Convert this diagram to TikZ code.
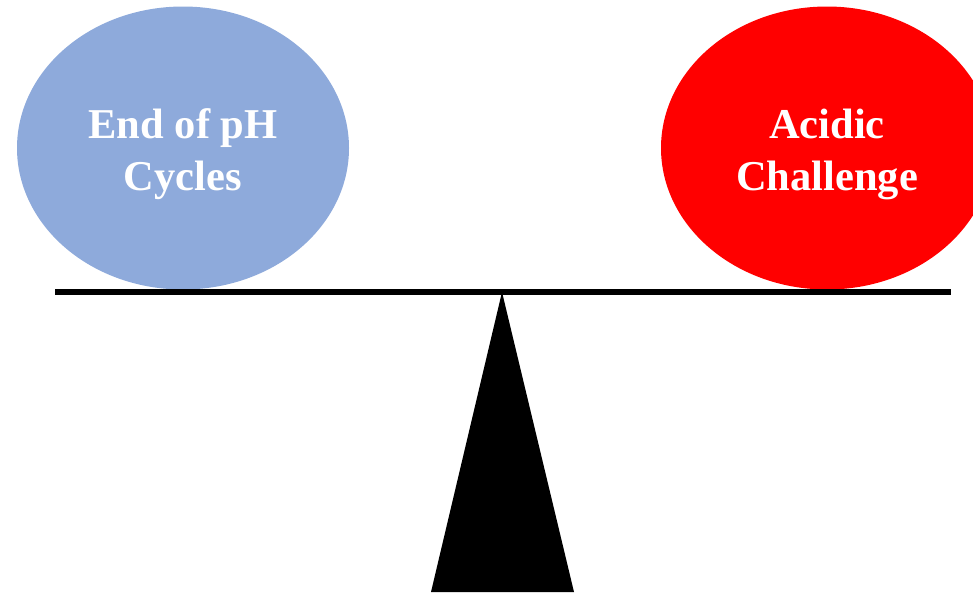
\documentclass[tikz,border=0pt]{standalone}
\usepackage{fontspec}
\setmainfont{Liberation Serif}
\usetikzlibrary{shapes.geometric}
\definecolor{ballblue}{RGB}{142,170,219}
\definecolor{ballred}{RGB}{255,0,0}
\begin{document}
\begin{tikzpicture}[x=1pt,y=-1pt,
  ball/.style={ellipse,minimum width=332pt,minimum height=283pt,inner sep=0pt,draw=none},
  balltext/.style={text=white,align=center,inner sep=0pt,font=\fontsize{42.5}{52}\selectfont\bfseries}]
\useasboundingbox (0,0) rectangle (973,592);
\clip (0,0) rectangle (973,592);
\node[ball,fill=ballblue] (left) at (183,148) {};
\node[ball,fill=ballred] (right) at (827,148) {};
\node[balltext] (lefttext) at (183,154) {End of pH\\Cycles};
\node[balltext] (righttext) at (827,154) {Acidic\\Challenge};
\coordinate (beamL) at (55,292);
\coordinate (beamR) at (951,292);
\coordinate (apex) at (502,292);
\coordinate (baseL) at (431,592);
\coordinate (baseR) at (574,592);
\fill[black] (apex) -- (baseL) -- (baseR) -- cycle;
\draw[black,line width=6pt] (beamL) -- (beamR);
\end{tikzpicture}
\end{document}
